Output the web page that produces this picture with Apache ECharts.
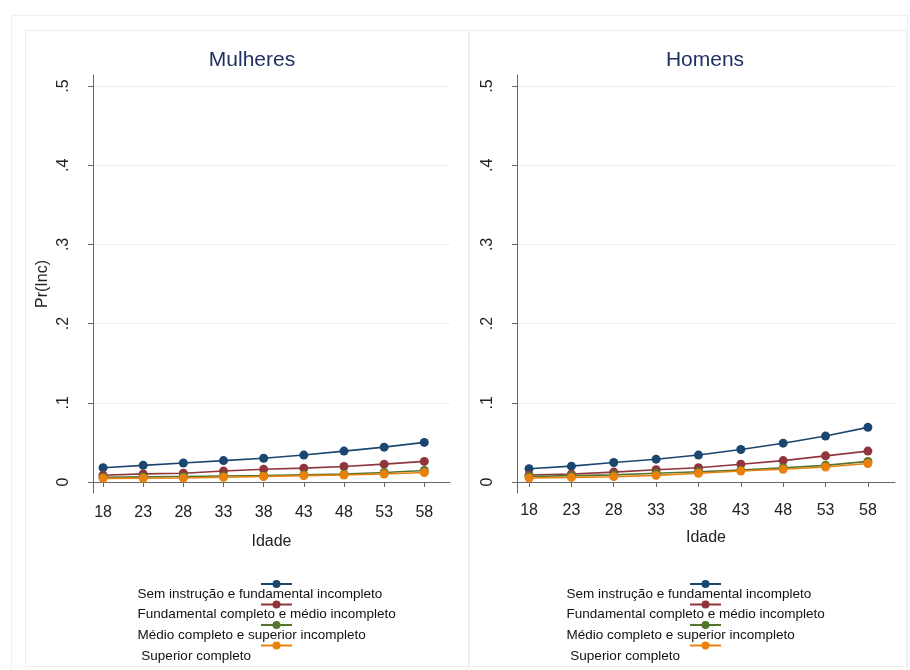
<!DOCTYPE html>
<html>
<head>
<meta charset="utf-8">
<script src="https://cdn.jsdelivr.net/npm/echarts@6/dist/echarts.min.js"></script>
<style>html,body{margin:0;padding:0;background:#fff}#c{width:910px;height:670px}</style>
</head>
<body>
<div id="c"></div>
<script>
const ages = [18, 23, 28, 33, 38, 43, 48, 53, 58];
const yTicks = [0, 0.1, 0.2, 0.3, 0.4, 0.5];
const seriesNames = [
  'Sem instrução e fundamental incompleto',
  'Fundamental completo e médio incompleto',
  'Médio completo e superior incompleto',
  'Superior completo'
];
const colors = ['#1a476f', '#90353b', '#55752f', '#e8820c'];
const panelTitles = ['Mulheres', 'Homens'];

// Mulheres
const mulSem = [0.018, 0.021, 0.024, 0.027, 0.030, 0.034, 0.039, 0.044, 0.050];
const mulFund = [0.0085, 0.0102, 0.011, 0.0138, 0.016, 0.0175, 0.0196, 0.0225, 0.026];
const mulMed = [0.006, 0.0065, 0.007, 0.0075, 0.008, 0.009, 0.010, 0.012, 0.0145];
const mulSup = [0.0046, 0.0047, 0.005, 0.006, 0.007, 0.008, 0.0088, 0.010, 0.012];
// Homens
const homSem = [0.0167, 0.020, 0.0246, 0.0288, 0.034, 0.041, 0.049, 0.058, 0.069];
const homFund = [0.0088, 0.010, 0.0125, 0.0154, 0.018, 0.0225, 0.027, 0.033, 0.039];
const homMed = [0.007, 0.008, 0.009, 0.011, 0.013, 0.015, 0.018, 0.021, 0.026];
const homSup = [0.005, 0.0058, 0.0067, 0.0083, 0.011, 0.0138, 0.016, 0.019, 0.0233];

const panelData = [[mulSem, mulFund, mulMed, mulSup], [homSem, homFund, homMed, homSup]];

const chart = echarts.init(document.getElementById('c'), null, {renderer: 'canvas'});
const FONT = 'Liberation Sans, Arial, sans-serif';
const grids = [
  {left: 93, top: 75, width: 357, height: 418},
  {left: 517, top: 75, width: 378, height: 418}
];
const xRanges = [[16.75, 61.2], [16.58, 61.2]];

function yLabel(v) {
  if (v === 0) return '0';
  return '.' + Math.round(v * 10);
}

const xAxes = grids.map((g, i) => ({
  type: 'value', gridIndex: i, min: xRanges[i][0], max: xRanges[i][1],
  name: 'Idade', nameLocation: 'middle', nameGap: i === 0 ? 41 : 37,
  nameTextStyle: {fontFamily: FONT, fontSize: 16, color: '#222'},
  axisLine: {show: true, lineStyle: {color: '#666', width: 1}},
  axisTick: {show: true, length: 5, lineStyle: {color: '#666'}, customValues: ages},
  axisLabel: {fontFamily: FONT, fontSize: 16, color: '#222', margin: i === 0 ? 12 : 10, customValues: ages},
  splitLine: {show: false}
}));

const yAxes = grids.map((g, i) => ({
  type: 'value', gridIndex: i, min: -0.0139, max: 0.5139,
  name: i === 0 ? 'Pr(Inc)' : '', nameLocation: 'middle', nameGap: 42, nameRotate: 90,
  nameTextStyle: {fontFamily: FONT, fontSize: 16, color: '#222'},
  axisLine: {show: true, lineStyle: {color: '#666', width: 1}},
  axisTick: {show: true, length: 5, lineStyle: {color: '#666'}, customValues: yTicks},
  axisLabel: {fontFamily: FONT, fontSize: 16, color: '#222', rotate: 90, margin: 21,
    customValues: yTicks, formatter: yLabel},
  splitLine: {show: true, lineStyle: {color: '#eeeeee', width: 1}}
}));

const series = [];
panelData.forEach((arrs, p) => {
  arrs.forEach((vals, k) => {
    series.push({
      type: 'line', name: seriesNames[k], xAxisIndex: p, yAxisIndex: p,
      data: ages.map((a, j) => [a, vals[j]]),
      symbol: 'circle', symbolSize: 9, color: colors[k],
      lineStyle: {width: 1.6, color: colors[k]},
      itemStyle: {color: colors[k]},
      emphasis: {disabled: true}, animation: false, z: 2 + k
    });
  });
});

const iconLegendPos = [260, 689];
const textLegendPos = [127, 556];
const legends = [];
[0, 1].forEach(p => {
  legends.push({
    data: seriesNames, orient: 'vertical', left: iconLegendPos[p], top: 580, padding: 0,
    itemWidth: 31, itemHeight: 10, itemGap: 12.5, selectedMode: false,
    formatter: () => '', textStyle: {fontSize: 10, lineHeight: 10}
  });
  legends.push({
    data: seriesNames, orient: 'vertical', left: textLegendPos[p], top: 587, padding: 0,
    itemWidth: 0, itemHeight: 14, itemGap: 6.7, selectedMode: false,
    itemStyle: {opacity: 0}, lineStyle: {opacity: 0},
    formatter: n => (n === 'Superior completo' ? ' ' + n : n),
    textStyle: {fontFamily: FONT, fontSize: 13.5, color: '#111', lineHeight: 14}
  });
});

chart.setOption({
  backgroundColor: '#ffffff',
  animation: false,
  title: [
    {text: panelTitles[0], left: 247, top: 45, textAlign: 'center',
      textStyle: {fontFamily: FONT, fontSize: 21, fontWeight: 'normal', color: '#1e3160'}},
    {text: panelTitles[1], left: 700, top: 45, textAlign: 'center',
      textStyle: {fontFamily: FONT, fontSize: 21, fontWeight: 'normal', color: '#1e3160'}}
  ],
  graphic: [
    {type: 'rect', shape: {x: 11.5, y: 15.5, width: 896, height: 660}, style: {fill: 'none', stroke: '#f0f0f0', lineWidth: 1}, silent: true, z: -10},
    {type: 'rect', shape: {x: 25.5, y: 30.5, width: 443, height: 636}, style: {fill: 'none', stroke: '#eeeeee', lineWidth: 1}, silent: true, z: -10},
    {type: 'rect', shape: {x: 469.5, y: 30.5, width: 437, height: 636}, style: {fill: 'none', stroke: '#eeeeee', lineWidth: 1}, silent: true, z: -10}
  ],
  grid: grids,
  xAxis: xAxes,
  yAxis: yAxes,
  legend: legends,
  series: series
});
</script>
</body>
</html>
